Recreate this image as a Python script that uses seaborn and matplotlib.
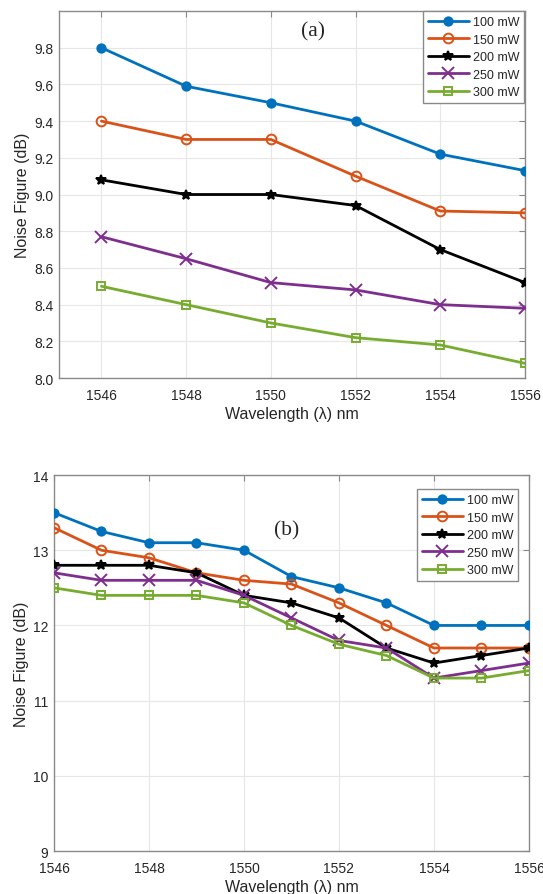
import pandas as pd
import matplotlib
matplotlib.use('Agg')
import matplotlib.pyplot as plt
import seaborn as sns

# --- Data ---
POWERS = ['100 mW', '150 mW', '200 mW', '250 mW', '300 mW']

WL_A = [1546, 1548, 1550, 1552, 1554, 1556]
NF_A_100 = [9.80, 9.59, 9.50, 9.40, 9.22, 9.13]
NF_A_150 = [9.40, 9.30, 9.30, 9.10, 8.91, 8.90]
NF_A_200 = [9.08, 9.00, 9.00, 8.94, 8.70, 8.52]
NF_A_250 = [8.77, 8.65, 8.52, 8.48, 8.40, 8.38]
NF_A_300 = [8.50, 8.40, 8.30, 8.22, 8.18, 8.08]

WL_B = [1546, 1547, 1548, 1549, 1550, 1551, 1552, 1553, 1554, 1555, 1556]
NF_B_100 = [13.5, 13.25, 13.1, 13.1, 13.0, 12.65, 12.5, 12.3, 12.0, 12.0, 12.0]
NF_B_150 = [13.3, 13.0, 12.9, 12.7, 12.6, 12.55, 12.3, 12.0, 11.7, 11.7, 11.7]
NF_B_200 = [12.8, 12.8, 12.8, 12.7, 12.4, 12.3, 12.1, 11.7, 11.5, 11.6, 11.7]
NF_B_250 = [12.7, 12.6, 12.6, 12.6, 12.4, 12.1, 11.8, 11.7, 11.3, 11.4, 11.5]
NF_B_300 = [12.5, 12.4, 12.4, 12.4, 12.3, 12.0, 11.75, 11.6, 11.3, 11.3, 11.4]

# --- Styling ---
sns.set_theme(style="whitegrid")
plt.rcParams['font.family'] = ['Liberation Sans', 'DejaVu Sans']

COLORS = ['#0072BD', '#D95319', '#000000', '#7E2F8E', '#77AC30']
MARKERS = ['o', 'o', '*', 'x', 's']
FILLED = [True, False, True, True, False]
MSIZE = [6, 7, 7, 8, 5.5]


def to_long(wl, series):
    frames = []
    for name, vals in zip(POWERS, series):
        frames.append(pd.DataFrame({'wl': wl, 'nf': vals, 'power': name}))
    return pd.concat(frames, ignore_index=True)


def style_axes(ax):
    ax.set_facecolor('white')
    for sp in ax.spines.values():
        sp.set_color('#8a8a8a')
        sp.set_linewidth(1.0)
    ax.grid(True, color='#e6e6e6', linewidth=0.8)
    ax.tick_params(axis='both', direction='in', length=4, width=0.8,
                   color='#8a8a8a', labelsize=10, labelcolor='#262626',
                   top=True, right=True, pad=4)
    ax.tick_params(axis='x', pad=7)
    ax.set_xlabel('Wavelength (\u03bb) nm', fontsize=11.5, color='#262626', labelpad=3)
    ax.set_ylabel('Noise Figure (dB)', fontsize=11.5, color='#262626', labelpad=3)


def draw_panel(ax, df):
    for i, name in enumerate(POWERS):
        sub = df[df['power'] == name]
        sns.lineplot(data=sub, x='wl', y='nf', ax=ax, color=COLORS[i],
                     linewidth=2.0, marker=MARKERS[i], markersize=MSIZE[i],
                     markerfacecolor=COLORS[i] if FILLED[i] else 'none',
                     markeredgecolor=COLORS[i], markeredgewidth=1.4,
                     label=name, zorder=3)


def add_legend(ax, anchor):
    leg = ax.legend(loc='upper right', bbox_to_anchor=anchor, borderaxespad=0,
                    fontsize=9, fancybox=False, framealpha=1, edgecolor='#8a8a8a',
                    handlelength=3.3, handletextpad=0.3, labelspacing=0.45,
                    borderpad=0.4)
    leg.get_frame().set_linewidth(1.0)


fig = plt.figure(figsize=(5.43, 8.95), dpi=100)
ax_a = fig.add_axes([0.1087, 0.5765, 0.8582, 0.4101])
ax_b = fig.add_axes([0.0994, 0.0480, 0.8748, 0.4201])

# panel (a)
df_a = to_long(WL_A, [NF_A_100, NF_A_150, NF_A_200, NF_A_250, NF_A_300])
draw_panel(ax_a, df_a)
ax_a.set_xlim(1545, 1556)
ax_a.set_ylim(8.0, 10.0)
ax_a.set_xticks([1546, 1548, 1550, 1552, 1554, 1556])
ax_a.set_yticks([8.0, 8.2, 8.4, 8.6, 8.8, 9.0, 9.2, 9.4, 9.6, 9.8])
ax_a.set_yticklabels([f'{v:.1f}' for v in ax_a.get_yticks()])
style_axes(ax_a)
ax_a.text(0.545, 0.945, '(a)', transform=ax_a.transAxes, ha='center', va='center',
          fontsize=15.5, family='Liberation Serif')
add_legend(ax_a, (0.998, 1.0))

# panel (b)
df_b = to_long(WL_B, [NF_B_100, NF_B_150, NF_B_200, NF_B_250, NF_B_300])
draw_panel(ax_b, df_b)
ax_b.set_xlim(1546, 1556)
ax_b.set_ylim(9, 14)
ax_b.set_xticks([1546, 1548, 1550, 1552, 1554, 1556])
ax_b.set_yticks([9, 10, 11, 12, 13, 14])
style_axes(ax_b)
ax_b.text(0.49, 0.855, '(b)', transform=ax_b.transAxes, ha='center', va='center',
          fontsize=15.5, family='Liberation Serif')
add_legend(ax_b, (0.977, 0.963))

fig.savefig('out.png', dpi=100)
